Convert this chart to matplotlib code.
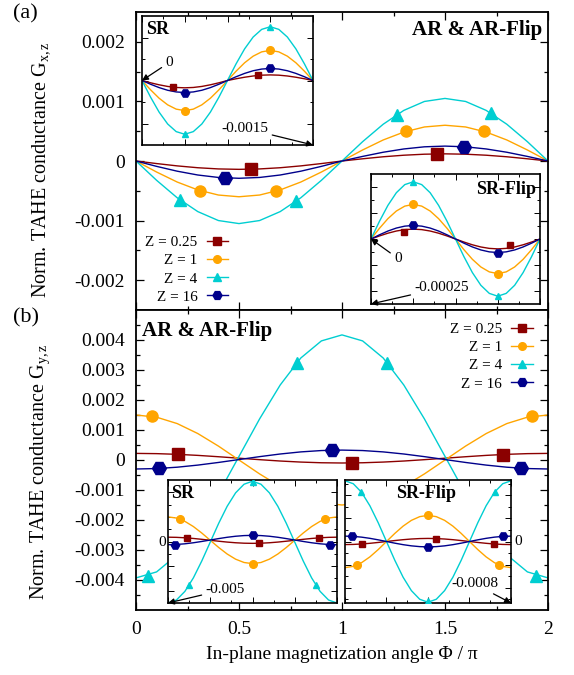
import matplotlib
matplotlib.use("Agg")
import numpy as np
import matplotlib.pyplot as plt
from matplotlib.lines import Line2D

plt.rcParams['font.family'] = ['Liberation Serif', 'DejaVu Serif']
plt.rcParams['mathtext.fontset'] = 'custom'
plt.rcParams['mathtext.rm'] = 'Liberation Serif'
plt.rcParams['mathtext.it'] = 'Liberation Serif:italic'

# in-plane angle grid (units of pi)
phi = [0.0, 0.1, 0.2, 0.3, 0.4, 0.5, 0.6, 0.7, 0.8, 0.9, 1.0,
       1.1, 1.2, 1.3, 1.4, 1.5, 1.6, 1.7, 1.8, 1.9, 2.0]

z_labels = ['Z = 0.25', 'Z = 1', 'Z = 4', 'Z = 16']

# ---- panel (a): G_xz, AR & AR-Flip (x 1e-3)
a_main_z025 = [0, -0.043, -0.082, -0.113, -0.133, -0.14, -0.133, -0.113, -0.082, -0.043, 0,
               0.037, 0.071, 0.097, 0.114, 0.12, 0.114, 0.097, 0.071, 0.037, 0]
a_main_z1 = [0, -0.185, -0.353, -0.485, -0.571, -0.6, -0.571, -0.485, -0.353, -0.185, 0,
             0.185, 0.353, 0.485, 0.571, 0.6, 0.571, 0.485, 0.353, 0.185, 0]
a_main_z4 = [0, -0.324, -0.617, -0.849, -0.999, -1.05, -0.999, -0.849, -0.617, -0.324, 0,
             0.324, 0.617, 0.849, 0.999, 1.05, 0.999, 0.849, 0.617, 0.324, 0]
a_main_z16 = [0, -0.09, -0.171, -0.235, -0.276, -0.29, -0.276, -0.235, -0.171, -0.09, 0,
              0.077, 0.147, 0.202, 0.238, 0.25, 0.238, 0.202, 0.147, 0.077, 0]
a_main_pts = {
    'z025': ([0.56, 1.46], [-0.138, 0.119]),
    'z1': ([0.31, 0.68, 1.31, 1.69], [-0.50, -0.51, 0.50, 0.50]),
    'z4': ([0.215, 0.775, 1.265, 1.725], [-0.66, -0.67, 0.78, 0.80]),
    'z16': ([0.43, 1.59], [-0.284, 0.24]),
}

# panel (a) inset SR (x 1e-3)
a_sr_z025 = [0, -0.053, -0.1, -0.138, -0.162, -0.17, -0.162, -0.138, -0.1, -0.053, 0,
             0.04, 0.076, 0.105, 0.124, 0.13, 0.124, 0.105, 0.076, 0.04, 0]
a_sr_z1 = [0, -0.216, -0.412, -0.566, -0.666, -0.7, -0.666, -0.566, -0.412, -0.216, 0,
           0.216, 0.412, 0.566, 0.666, 0.7, 0.666, 0.566, 0.412, 0.216, 0]
a_sr_z4 = [0, -0.386, -0.735, -1.011, -1.189, -1.25, -1.189, -1.011, -0.735, -0.386, 0,
           0.386, 0.735, 1.011, 1.189, 1.25, 1.189, 1.011, 0.735, 0.386, 0]
a_sr_z16 = [0, -0.087, -0.165, -0.227, -0.266, -0.28, -0.266, -0.227, -0.165, -0.087, 0,
            0.087, 0.165, 0.227, 0.266, 0.28, 0.266, 0.227, 0.165, 0.087, 0]
a_sr_pts = {
    'z025': ([0.36, 1.36], [-0.154, 0.118]),
    'z1': ([0.5, 1.5], [-0.7, 0.7]),
    'z4': ([0.5, 1.5], [-1.25, 1.25]),
    'z16': ([0.5, 1.5], [-0.28, 0.28]),
}

# panel (a) inset SR-Flip (x 1e-4)
a_srf_z025 = [0, 0.117, 0.223, 0.307, 0.361, 0.38, 0.361, 0.307, 0.223, 0.117, 0,
              -0.117, -0.223, -0.307, -0.361, -0.38, -0.361, -0.307, -0.223, -0.117, 0]
a_srf_z1 = [0, 0.411, 0.782, 1.076, 1.265, 1.33, 1.265, 1.076, 0.782, 0.411, 0,
            -0.411, -0.782, -1.076, -1.265, -1.33, -1.265, -1.076, -0.782, -0.411, 0]
a_srf_z4 = [0, 0.68, 1.293, 1.78, 2.092, 2.2, 2.092, 1.78, 1.293, 0.68, 0,
            -0.68, -1.293, -1.78, -2.092, -2.2, -2.092, -1.78, -1.293, -0.68, 0]
a_srf_z16 = [0, 0.161, 0.306, 0.421, 0.495, 0.52, 0.495, 0.421, 0.306, 0.161, 0,
             -0.161, -0.306, -0.421, -0.495, -0.52, -0.495, -0.421, -0.306, -0.161, 0]
a_srf_pts = {
    'z025': ([0.39, 1.64], [0.26, -0.24]),
    'z1': ([0.5, 1.5], [1.33, -1.33]),
    'z4': ([0.5, 1.5], [2.2, -2.2]),
    'z16': ([0.5, 1.5], [0.52, -0.52]),
}

# ---- panel (b): G_yz, AR & AR-Flip (x 1e-3)
b_main_z025 = [0.22, 0.212, 0.189, 0.154, 0.109, 0.06, 0.011, -0.034, -0.069, -0.092, -0.10,
               -0.092, -0.069, -0.034, 0.011, 0.06, 0.109, 0.154, 0.189, 0.212, 0.22]
b_main_z1 = [1.5, 1.427, 1.214, 0.882, 0.464, 0, -0.464, -0.882, -1.214, -1.427, -1.5,
             -1.427, -1.214, -0.882, -0.464, 0, 0.464, 0.882, 1.214, 1.427, 1.5]
b_main_z4 = [-3.93, -3.73, -3.16, -2.26, -1.13, 0.12, 1.37, 2.50, 3.40, 3.97, 4.17,
             3.97, 3.40, 2.50, 1.37, 0.12, -1.13, -2.26, -3.16, -3.73, -3.93]
b_main_z16 = [-0.30, -0.285, -0.24, -0.17, -0.082, 0.015, 0.112, 0.20, 0.27, 0.315, 0.33,
              0.315, 0.27, 0.20, 0.112, 0.015, -0.082, -0.17, -0.24, -0.285, -0.30]
b_main_pts = {
    'z025': ([0.205, 1.05, 1.78], [0.19, -0.10, 0.18]),
    'z1': ([0.076, 1.924], [1.46, 1.46]),
    'z4': ([0.06, 0.78, 1.22, 1.94], [-3.86, 3.24, 3.24, -3.86]),
    'z16': ([0.113, 0.95, 1.87], [-0.25, 0.33, -0.26]),
}

# panel (b) inset SR (x 1e-3)
b_sr_z025 = [0.35, 0.338, 0.302, 0.247, 0.177, 0.1, 0.023, -0.047, -0.102, -0.138, -0.15,
             -0.138, -0.102, -0.047, 0.023, 0.1, 0.177, 0.247, 0.302, 0.338, 0.35]
b_sr_z1 = [2.0, 1.907, 1.637, 1.217, 0.687, 0.1, -0.487, -1.017, -1.437, -1.707, -1.8,
           -1.707, -1.437, -1.017, -0.487, 0.1, 0.687, 1.217, 1.637, 1.907, 2.0]
b_sr_z4 = [-5.0, -4.757, -4.055, -2.961, -1.58, -0.05, 1.48, 2.861, 3.955, 4.657, 4.9,
           4.657, 3.955, 2.861, 1.48, -0.05, -1.58, -2.961, -4.055, -4.757, -5.0]
b_sr_z16 = [-0.26, -0.241, -0.187, -0.103, 0.003, 0.12, 0.237, 0.343, 0.427, 0.481, 0.5,
            0.481, 0.427, 0.343, 0.237, 0.12, 0.003, -0.103, -0.187, -0.241, -0.26]
b_sr_pts = {
    'z025': ([0.23, 1.08, 1.79], [0.29, -0.14, 0.29]),
    'z1': ([0.14, 1.0, 1.86], [1.82, -1.8, 1.82]),
    'z4': ([0.25, 1.0, 1.75], [-3.55, 4.85, -3.55]),
    'z16': ([0.08, 1.0, 1.92], [-0.25, 0.5, -0.25]),
}

# panel (b) inset SR-Flip (x 1e-4)
b_srf_z025 = [-0.4, -0.38, -0.324, -0.235, -0.124, 0, 0.124, 0.235, 0.324, 0.38, 0.4,
              0.38, 0.324, 0.235, 0.124, 0, -0.124, -0.235, -0.324, -0.38, -0.4]
b_srf_z1 = [-3.4, -3.233, -2.751, -1.999, -1.051, 0, 1.051, 1.999, 2.751, 3.233, 3.4,
            3.233, 2.751, 1.999, 1.051, 0, -1.051, -1.999, -2.751, -3.233, -3.4]
b_srf_z4 = [7.9, 7.513, 6.391, 4.645, 2.441, 0, -2.441, -4.645, -6.391, -7.513, -7.9,
            -7.513, -6.391, -4.645, -2.441, 0, 2.441, 4.645, 6.391, 7.513, 7.9]
b_srf_z16 = [0.7, 0.666, 0.566, 0.412, 0.216, 0, -0.216, -0.412, -0.566, -0.666, -0.7,
             -0.666, -0.566, -0.412, -0.216, 0, 0.216, 0.412, 0.566, 0.666, 0.7]
b_srf_pts = {
    'z025': ([0.21, 1.1, 1.79], [-0.32, 0.38, -0.32]),
    'z1': ([0.15, 1.0, 1.85], [-3.0, 3.4, -3.0]),
    'z4': ([0.19, 1.0, 1.81], [6.5, -7.7, 6.5]),
    'z16': ([0.09, 1.0, 1.9], [0.67, -0.7, 0.67]),
}

a_yticks = [-0.002, -0.001, 0, 0.001, 0.002]
a_yticklabels = ['-0.002', '-0.001', '0', '0.001', '0.002']
b_yticks = [-0.004, -0.003, -0.002, -0.001, 0, 0.001, 0.002, 0.003, 0.004]
b_yticklabels = ['-0.004', '-0.003', '-0.002', '-0.001', '0', '0.001', '0.002', '0.003', '0.004']
xticks = [0, 0.5, 1, 1.5, 2]
xticklabels = ['0', '0.5', '1', '1.5', '2']

keys = ['z025', 'z1', 'z4', 'z16']
colors = {'z025': '#8b0000', 'z1': '#ffa500', 'z4': '#00ced1', 'z16': '#00008b'}
markers = {'z025': 's', 'z1': 'o', 'z4': '^', 'z16': 'H'}


def draw(ax, curves, pts, unit, big):
    for k, c in zip(keys, curves):
        ax.plot(phi, np.array(c) * unit, color=colors[k], lw=1.0, zorder=2)
        if big:
            ms = {'z025': 8, 'z1': 8, 'z4': 8, 'z16': 10}[k]
        else:
            ms = {'z025': 5, 'z1': 5.5, 'z4': 5, 'z16': 6}[k]
        ax.plot(pts[k][0], np.array(pts[k][1]) * unit, ls='none', marker=markers[k],
                ms=ms, color=colors[k], mec=colors[k], zorder=3)


def style_main(ax):
    ax.set_xlim(0, 2)
    ax.set_xticks(xticks)
    ax.set_xticks([0.25, 0.75, 1.25, 1.75], minor=True)
    ax.tick_params(which='both', direction='in', top=True, right=True, labelsize=14, pad=8)
    ax.tick_params(which='major', length=6, width=0.9)
    ax.tick_params(which='minor', length=3, width=0.9)
    for s in ax.spines.values():
        s.set_linewidth(1.3)


def style_inset(ax, ylim, yt, ytm):
    ax.set_xlim(0, 2)
    ax.set_ylim(*ylim)
    ax.set_xticks(xticks)
    ax.set_xticks([0.25, 0.75, 1.25, 1.75], minor=True)
    ax.set_yticks(yt)
    ax.set_yticks(ytm, minor=True)
    ax.tick_params(which='both', direction='in', top=True, right=True,
                   labelleft=False, labelbottom=False)
    ax.tick_params(which='major', length=4, width=0.7)
    ax.tick_params(which='minor', length=2, width=0.7)
    ax.set_facecolor('white')
    for s in ax.spines.values():
        s.set_linewidth(1.2)


arrow = dict(arrowstyle='-|>', color='black', lw=0.9, mutation_scale=9, shrinkA=1, shrinkB=0)

fig = plt.figure(figsize=(5.74, 6.75), dpi=100)

# panel (a)
axa = fig.add_axes([136 / 574, 365 / 675, 412 / 574, 298 / 675])
draw(axa, [a_main_z025, a_main_z1, a_main_z4, a_main_z16], a_main_pts, 1e-3, True)
style_main(axa)
axa.set_ylim(-0.0025, 0.0025)
axa.set_yticks(a_yticks, labels=a_yticklabels)
axa.set_yticks([-0.0015, -0.0005, 0.0005, 0.0015], minor=True)
axa.tick_params(labelbottom=False)
axa.set_ylabel('Norm. TAHE conductance G$_{\\mathrm{x,z}}$', fontsize=14.5)
axa.yaxis.set_label_coords(-0.205, 0.47)
axa.text(0.985, 0.94, 'AR & AR-Flip', transform=axa.transAxes, ha='right', va='center',
         fontsize=15, fontweight='bold')
hdl = [Line2D([], [], color=colors[k], marker=markers[k], lw=1.0, ms=6.5 if k == 'z16' else 5.5)
       for k in keys]
axa.legend(hdl, z_labels, loc='lower left', bbox_to_anchor=(0.0, -0.01), frameon=False,
           markerfirst=False, fontsize=11, handlelength=1.4, handletextpad=0.6,
           labelspacing=0.3, borderaxespad=0.2)

# panel (b)
axb = fig.add_axes([136 / 574, 65 / 675, 412 / 574, 300 / 675])
draw(axb, [b_main_z025, b_main_z1, b_main_z4, b_main_z16], b_main_pts, 1e-3, True)
style_main(axb)
axb.set_ylim(-0.005, 0.005)
axb.set_yticks(b_yticks, labels=b_yticklabels)
axb.set_yticks(np.arange(-0.0045, 0.005, 0.001), minor=True)
axb.set_xticks(xticks, labels=xticklabels)
axb.set_xlabel('In-plane magnetization angle Φ / π', fontsize=14, labelpad=6)
axb.set_ylabel('Norm. TAHE conductance G$_{\\mathrm{y,z}}$', fontsize=14.5)
axb.yaxis.set_label_coords(-0.205, 0.46)
axb.text(0.015, 0.93, 'AR & AR-Flip', transform=axb.transAxes, ha='left', va='center',
         fontsize=15, fontweight='bold')
axb.legend(hdl, z_labels, loc='upper right', bbox_to_anchor=(0.985, 0.99), frameon=False,
           markerfirst=False, fontsize=11, handlelength=1.4, handletextpad=0.6,
           labelspacing=0.3, borderaxespad=0.2)

# inset (a) SR
ia1 = fig.add_axes([142 / 574, 530 / 675, 171 / 574, 129 / 675])
draw(ia1, [a_sr_z025, a_sr_z1, a_sr_z4, a_sr_z16], a_sr_pts, 1e-3, False)
style_inset(ia1, (-0.0015, 0.0015), [-0.001, 0, 0.001], [-0.0005, 0.0005])
ia1.text(0.025, 0.96, 'SR', transform=ia1.transAxes, ha='left', va='top',
         fontsize=13, fontweight='bold')
ia1.annotate('0', xy=(0, 0.5), xycoords='axes fraction', xytext=(0.16, 0.64),
             textcoords='axes fraction', fontsize=11, ha='center', va='center', arrowprops=arrow)
ia1.annotate('-0.0015', xy=(1, 0), xycoords='axes fraction', xytext=(0.6, 0.13),
             textcoords='axes fraction', fontsize=11, ha='center', va='center', arrowprops=arrow)

# inset (a) SR-Flip
ia2 = fig.add_axes([371 / 574, 371 / 675, 169 / 574, 130 / 675])
draw(ia2, [a_srf_z025, a_srf_z1, a_srf_z4, a_srf_z16], a_srf_pts, 1e-4, False)
style_inset(ia2, (-0.00025, 0.00025), [-0.0002, -0.0001, 0, 0.0001, 0.0002],
            [-0.00015, -0.00005, 0.00005, 0.00015])
ia2.text(0.975, 0.95, 'SR-Flip', transform=ia2.transAxes, ha='right', va='top',
         fontsize=13, fontweight='bold')
ia2.annotate('0', xy=(0, 0.5), xycoords='axes fraction', xytext=(0.16, 0.35),
             textcoords='axes fraction', fontsize=11, ha='center', va='center', arrowprops=arrow)
ia2.annotate('-0.00025', xy=(0, 0), xycoords='axes fraction', xytext=(0.42, 0.125),
             textcoords='axes fraction', fontsize=11, ha='center', va='center', arrowprops=arrow)

# inset (b) SR
ib1 = fig.add_axes([168 / 574, 72 / 675, 169 / 574, 123 / 675])
draw(ib1, [b_sr_z025, b_sr_z1, b_sr_z4, b_sr_z16], b_sr_pts, 1e-3, False)
style_inset(ib1, (-0.005, 0.005), [-0.004, -0.002, 0, 0.002, 0.004],
            [-0.003, -0.001, 0.001, 0.003])
ib1.text(0.02, 0.96, 'SR', transform=ib1.transAxes, ha='left', va='top',
         fontsize=13, fontweight='bold')
ib1.text(-0.01, 0.49, '0', transform=ib1.transAxes, ha='right', va='center', fontsize=11)
ib1.annotate('-0.005', xy=(0, 0), xycoords='axes fraction', xytext=(0.34, 0.11),
             textcoords='axes fraction', fontsize=11, ha='center', va='center', arrowprops=arrow)

# inset (b) SR-Flip
ib2 = fig.add_axes([345 / 574, 72 / 675, 166 / 574, 123 / 675])
draw(ib2, [b_srf_z025, b_srf_z1, b_srf_z4, b_srf_z16], b_srf_pts, 1e-4, False)
style_inset(ib2, (-0.0008, 0.0008), [-0.0006, -0.0003, 0, 0.0003, 0.0006],
            [-0.00075, -0.00045, -0.00015, 0.00015, 0.00045, 0.00075])
ib2.text(0.49, 0.96, 'SR-Flip', transform=ib2.transAxes, ha='center', va='top',
         fontsize=13, fontweight='bold')
ib2.text(1.02, 0.5, '0', transform=ib2.transAxes, ha='left', va='center', fontsize=11)
ib2.annotate('-0.0008', xy=(1, 0), xycoords='axes fraction', xytext=(0.78, 0.155),
             textcoords='axes fraction', fontsize=11, ha='center', va='center', arrowprops=arrow)

fig.text(13 / 574, 1 - 14 / 675, '(a)', fontsize=16, ha='left', va='center')
fig.text(13 / 574, 1 - 318 / 675, '(b)', fontsize=16, ha='left', va='center')

fig.savefig('out.png', dpi=100)
